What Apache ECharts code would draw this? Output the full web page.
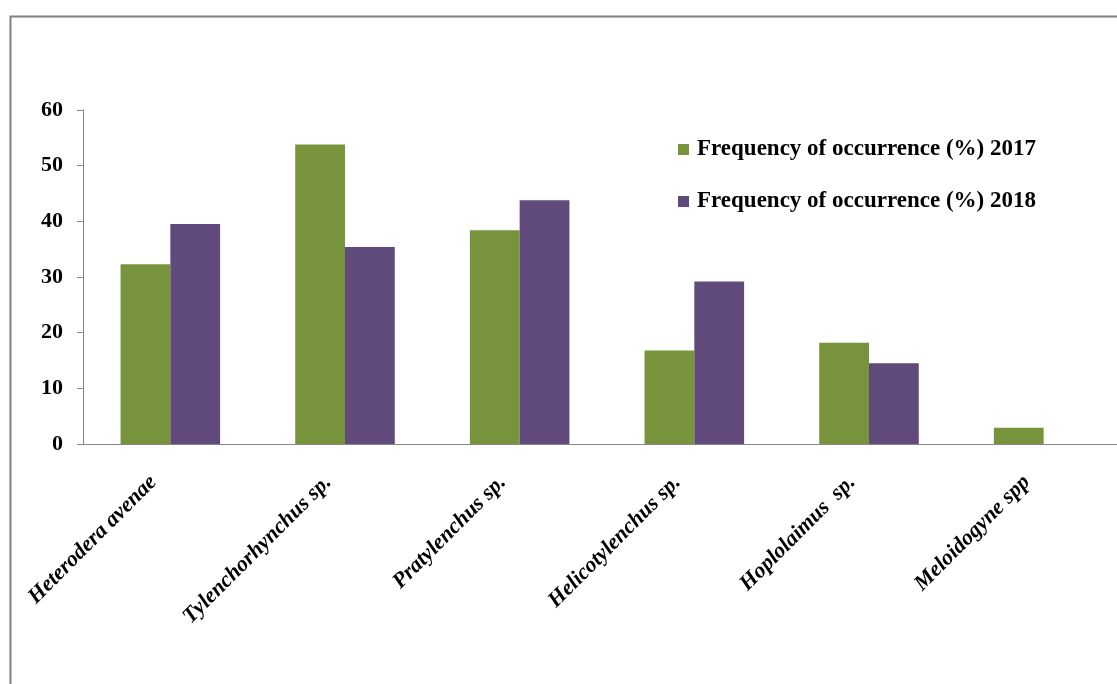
<!DOCTYPE html>
<html><head><meta charset="utf-8">
<script src="https://cdn.jsdelivr.net/npm/echarts@6/dist/echarts.min.js"></script>
<style>html,body{margin:0;padding:0;background:#fff;overflow:hidden}#c{width:1150px;height:684px}</style>
</head><body><div id="c"></div>
<script>
const categories = ["Heterodera avenae","Tylenchorhynchus sp.","Pratylenchus sp.","Helicotylenchus sp.","Hoplolaimus  sp.","Meloidogyne spp"];
const seriesNames = ["Frequency of occurrence (%) 2017","Frequency of occurrence (%) 2018"];
const values2017 = [32.3, 53.8, 38.4, 16.8, 18.2, 2.9];
const values2018 = [39.5, 35.4, 43.8, 29.2, 14.5, 0];
const yTicks = [0,10,20,30,40,50,60];

const serif = '"Liberation Serif","Times New Roman",serif';
const chart = echarts.init(document.getElementById('c'), null, {renderer:'canvas'});
chart.setOption({
  animation:false,
  backgroundColor:'#fff',
  graphic:[{type:'rect', left:8, top:14, shape:{width:1300,height:900}, style:{fill:'none', stroke:'#808080', lineWidth:2}, silent:true, z:-1}],
  grid:{left:83, top:110, width:1048, height:334, containLabel:false},
  legend:{
    orient:'vertical', left:673, top:133, itemWidth:11, itemHeight:11, itemGap:29,
    icon:'rect',
    textStyle:{fontFamily:serif, fontWeight:'bold', fontSize:23, color:'#000', padding:[0,0,0,3]},
    data:seriesNames
  },
  xAxis:{
    type:'category', data:categories,
    axisLine:{show:true, lineStyle:{color:'#868686', width:1}},
    axisTick:{show:false},
    axisLabel:{interval:0, rotate:45, margin:18, padding:[0,24,0,0], fontFamily:serif, fontWeight:'bold', fontStyle:'italic', fontSize:22, color:'#000'}
  },
  yAxis:{
    type:'value', min:yTicks[0], max:yTicks[yTicks.length-1], interval:10,
    splitLine:{show:false},
    axisLine:{show:true, lineStyle:{color:'#868686', width:1}},
    axisTick:{show:true, inside:false, length:6, lineStyle:{color:'#868686'}},
    axisLabel:{margin:20, fontFamily:serif, fontWeight:'bold', fontSize:22, color:'#000'}
  },
  series:[
    {name:seriesNames[0], type:'bar', data:values2017, barGap:'0%', barCategoryGap:'43%',
     itemStyle:{color:'#77933c'}},
    {name:seriesNames[1], type:'bar', data:values2018, barGap:'0%', barCategoryGap:'43%',
     itemStyle:{color:'#604a7b'}}
  ]
});
</script></body></html>
